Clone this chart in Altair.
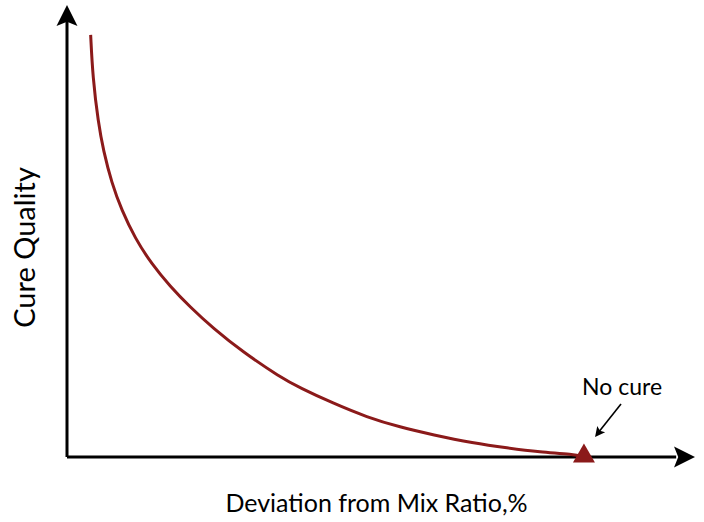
import altair as alt
import pandas as pd

# Curve (deviation, cure quality) in arbitrary units
deviation = [2.26, 2.46, 2.99, 3.47, 4.27, 5.23, 6.50, 8.09, 9.84, 11.75,
             13.95, 16.82, 20.35, 22.26, 25.41, 28.66, 31.82, 34.97, 38.79,
             42.04, 45.19, 48.34, 49.49]
quality = [93.4, 84.1, 73.9, 67.9, 60.6, 54.6, 48.4, 42.7, 37.8, 33.2,
           28.5, 23.2, 17.7, 15.3, 11.9, 8.8, 6.6, 4.9, 3.1,
           2.0, 1.1, 0.6, 0.0]

no_cure_x = [49.39]
no_cure_y = [0.88]

X_MAX = 60
Y_MAX = 100
RED = "#8b1a1a"
FONT = "Lato"

curve_df = pd.DataFrame({"x": deviation, "y": quality})
marker_df = pd.DataFrame({"x": no_cure_x, "y": no_cure_y})

xs = alt.Scale(domain=[0, X_MAX], nice=False, zero=False)
ys = alt.Scale(domain=[0, Y_MAX], nice=False, zero=False)

xax = alt.Axis(domain=False, ticks=False, labels=False, grid=False,
               title="Deviation from Mix Ratio,%", titleFont=FONT,
               titleFontSize=25, titleFontWeight="normal", titleColor="black",
               titleX=309, titleY=46, titleBaseline="middle", titleAlign="center")
yax = alt.Axis(domain=False, ticks=False, labels=False, grid=False,
               title="Cure Quality", titleFont=FONT,
               titleFontSize=29, titleFontWeight="normal", titleColor="black",
               titleX=-42, titleY=242, titleAngle=270,
               titleBaseline="middle", titleAlign="center")

curve = alt.Chart(curve_df).mark_line(
    color=RED, strokeWidth=3, interpolate="basis"
).encode(
    x=alt.X("x:Q", scale=xs, axis=xax),
    y=alt.Y("y:Q", scale=ys, axis=yax),
)

# axis lines
axis_lines = pd.DataFrame({"x": [0, 0], "y": [0, 0], "x2": [58.2, 0], "y2": [0, 96.5]})
axes = alt.Chart(axis_lines).mark_rule(color="black", strokeWidth=3).encode(
    x=alt.X("x:Q", scale=xs), y=alt.Y("y:Q", scale=ys),
    x2="x2:Q", y2="y2:Q",
)

ARROW = "M0,0 L-1,2 L0,1.6 L1,2 Z"
heads_df = pd.DataFrame({"x": [0, X_MAX], "y": [Y_MAX, 0], "a": [0, 90]})
heads = alt.Chart(heads_df).mark_point(
    shape=ARROW, filled=True, color="black", size=440, opacity=1
).encode(
    x=alt.X("x:Q", scale=xs), y=alt.Y("y:Q", scale=ys),
    angle=alt.Angle("a:Q", scale=None),
)

marker = alt.Chart(marker_df).mark_point(
    shape="triangle-up", filled=True, color=RED, size=484, opacity=1
).encode(x=alt.X("x:Q", scale=xs), y=alt.Y("y:Q", scale=ys))

# annotation
label_df = pd.DataFrame({"x": [53.03], "y": [15.27], "t": ["No cure"]})
label = alt.Chart(label_df).mark_text(
    font=FONT, fontSize=23, color="black", baseline="middle", align="center"
).encode(x=alt.X("x:Q", scale=xs), y=alt.Y("y:Q", scale=ys), text="t:N")

pointer_df = pd.DataFrame({"x": [52.93], "y": [11.73], "x2": [50.73], "y2": [5.31]})
pointer = alt.Chart(pointer_df).mark_rule(color="black", strokeWidth=1.6).encode(
    x=alt.X("x:Q", scale=xs), y=alt.Y("y:Q", scale=ys), x2="x2:Q", y2="y2:Q",
)
ptip_df = pd.DataFrame({"x": [50.45], "y": [4.42], "a": [218]})
ptip = alt.Chart(ptip_df).mark_point(
    shape=ARROW, filled=True, color="black", size=100, opacity=1
).encode(
    x=alt.X("x:Q", scale=xs), y=alt.Y("y:Q", scale=ys),
    angle=alt.Angle("a:Q", scale=None),
)

chart = alt.layer(axes, heads, curve, marker, pointer, ptip, label).properties(
    width=628, height=452,
    autosize=alt.AutoSizeParams(type="none"),
    padding={"left": 67, "top": 5, "right": 9, "bottom": 65},
    background="white",
).configure_view(stroke=None)

chart.save("out.html", embed_options={"renderer": "svg", "actions": False})
